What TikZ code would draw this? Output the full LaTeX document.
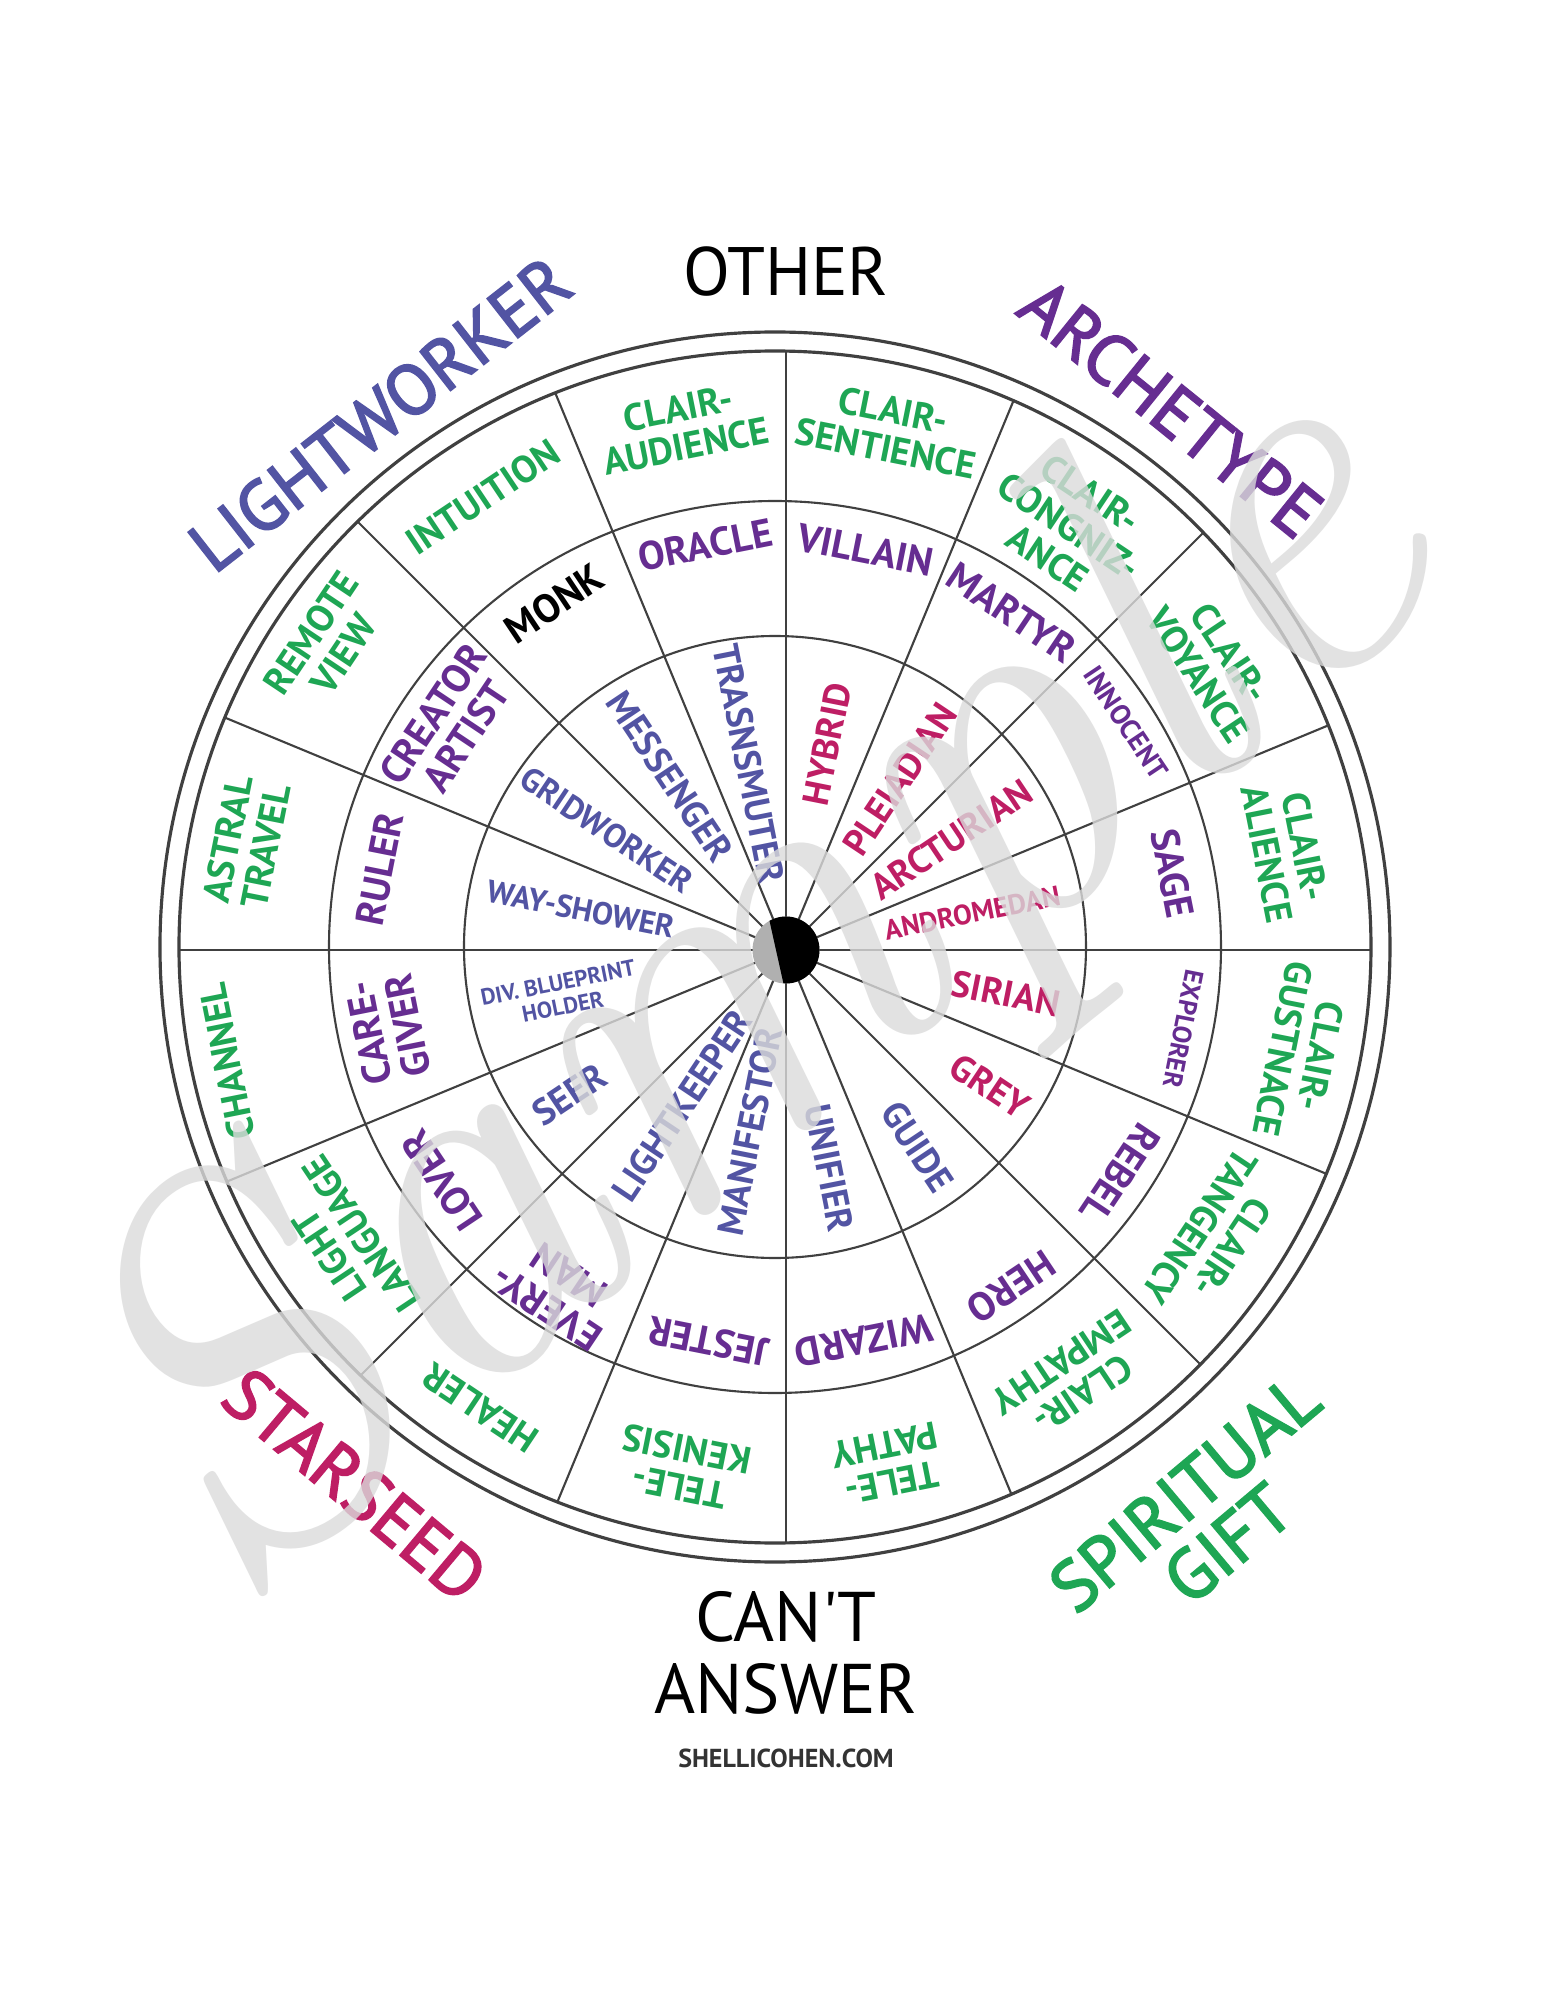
\documentclass[tikz,border=0pt]{standalone}
\usepackage{fontspec}
\setsansfont{PT Sans}
\newfontfamily\plainsans{PT Sans}
\newfontfamily\headsans{PT Sans}[FakeBold=2.6]
\usepackage{tikz}
\usetikzlibrary{calc}

\definecolor{giftgreen}{RGB}{30,166,84}
\definecolor{archpurple}{RGB}{102,45,145}
\definecolor{lwblue}{RGB}{82,84,163}
\definecolor{seedpink}{RGB}{190,30,100}
\definecolor{wheelgray}{RGB}{64,64,64}

\begin{document}
\begin{tikzpicture}[
    lbl/.style={align=center, inner sep=0pt, font=\sffamily\bfseries\fontsize{10.5}{10.5}\selectfont},
    gift/.style={lbl, text=giftgreen, font=\sffamily\bfseries\fontsize{10.8}{11}\selectfont},
    arch/.style={lbl, text=archpurple, font=\sffamily\bfseries\fontsize{11.3}{11.3}\selectfont},
    lw/.style={lbl, text=lwblue},
    seed/.style={lbl, text=seedpink},
    big/.style={align=center, inner sep=0pt, font=\headsans\fontsize{20.2}{19}\selectfont},
    wheel/.style={draw=wheelgray, line width=0.6pt},
    rim/.style={draw=wheelgray, line width=0.9pt}
]
\useasboundingbox (-7.86,-10.50) rectangle (7.59,9.50);
\fill[white] (-7.86,-10.50) rectangle (7.59,9.50);

\coordinate (cc) at (-0.11,0.03);
\coordinate (piv) at (0,0);

\draw[rim] (cc) circle (6.15);
\draw[rim] (cc) circle (5.96);
\draw[wheel] (cc) circle (4.46);
\draw[wheel] (cc) circle (3.11);
\begin{scope}
  \clip (cc) circle (5.96);
  \foreach \a in {0,22.5,...,337.5}
    \draw[wheel] (piv) -- (\a:7);
\end{scope}

\fill[gray!62] (piv) circle (0.335);
\begin{scope}
  \clip (piv) circle (0.335);
  \fill[black] (-0.189,0.4) -- (-0.011,-0.4) -- (0.4,-0.4) -- (0.4,0.4) -- cycle;
\end{scope}

\node[gift, rotate=11.25] (audience) at (101.25:5.33) {CLAIR-\\AUDIENCE};
\node[gift, rotate=-11.25] (sentience) at (78.75:5.31) {CLAIR-\\SENTIENCE};
\node[gift, rotate=-33.75] (cognizance) at (56.25:5.10) {CLAIR-\\CONGNIZ-\\ANCE};
\node[gift, rotate=-56.25] (voyance) at (33.75:5.15) {CLAIR-\\VOYANCE};
\node[gift, rotate=-78.75] (alience) at (11.25:5.10) {CLAIR-\\ALIENCE};
\node[gift, rotate=-101.25] (gustnace) at (-11.25:5.26) {CLAIR-\\GUSTNACE};
\node[gift, rotate=-123.75] (tangency) at (-33.75:5.17) {CLAIR-\\TANGENCY};
\node[gift, rotate=-146.25] (empathy) at (-56.25:5.15) {CLAIR-\\EMPATHY};
\node[gift, rotate=-168.75] (telepathy) at (-78.75:5.24) {TELE-\\PATHY};
\node[gift, rotate=168.75] (telekenisis) at (-101.25:5.28) {TELE-\\KENISIS};
\node[gift, rotate=146.25] (healer) at (-123.75:5.51) {HEALER};
\node[gift, rotate=123.75] (language) at (-146.25:5.30) {LIGHT\\LANGUAGE};
\node[gift, rotate=101.25] (channel) at (-168.75:5.70) {CHANNEL};
\node[gift, rotate=78.75] (astral) at (168.75:5.50) {ASTRAL\\TRAVEL};
\node[gift, rotate=56.25] (remote) at (146.25:5.52) {REMOTE\\VIEW};
\node[gift, rotate=33.75] (intuition) at (123.75:5.45) {INTUITION};

\node[arch, rotate=11.25] (oracle) at (101.25:4.13) {ORACLE};
\node[arch, rotate=-11.25] (villain) at (78.75:4.08) {VILLAIN};
\node[arch, rotate=-33.75] (martyr) at (56.25:4.06) {MARTYR};
\node[arch, rotate=-56.25, font=\sffamily\bfseries\fontsize{8}{8}\selectfont] (innocent) at (33.75:4.09) {INNOCENT};
\node[arch, rotate=-78.75] (sage) at (11.25:3.94) {SAGE};
\node[arch, rotate=-101.25, font=\sffamily\bfseries\fontsize{7.5}{7.5}\selectfont] (explorer) at (-11.25:4.05) {EXPLORER};
\node[arch, rotate=-123.75] (rebel) at (-33.75:4.02) {REBEL};
\node[arch, rotate=-146.25] (hero) at (-56.25:4.05) {HERO};
\node[arch, rotate=-168.75] (wizard) at (-78.75:3.98) {WIZARD};
\node[arch, rotate=168.75] (jester) at (-101.25:3.99) {JESTER};
\node[arch, rotate=146.25] (everyman) at (-123.75:4.11) {EVERY-\\MAN};
\node[arch, rotate=123.75] (lover) at (-146.25:4.14) {LOVER};
\node[arch, rotate=101.25] (caregiver) at (-168.75:4.06) {CARE-\\GIVER};
\node[arch, rotate=78.75] (ruler) at (168.75:4.14) {RULER};
\node[arch, rotate=56.25] (creator) at (146.25:4.05) {CREATOR\\ARTIST};
\node[arch, rotate=33.75, text=black] (monk) at (123.75:4.17) {MONK};

\node[lw, rotate=-78.75] (transmuter) at (101.25:1.90) {TRASNSMUTER};
\node[seed, rotate=78.75] (hybrid) at (78.75:2.10) {HYBRID};
\node[seed, rotate=56.25] (pleiadian) at (56.25:2.05) {PLEIADIAN};
\node[seed, rotate=33.75] (arcturian) at (33.75:1.99) {ARCTURIAN};
\node[seed, rotate=11.25, font=\sffamily\bfseries\fontsize{8}{8}\selectfont] (andromedan) at (11.25:1.90) {ANDROMEDAN};
\node[seed, rotate=-11.25] (sirian) at (-11.25:2.24) {SIRIAN};
\node[seed, rotate=-33.75] (grey) at (-33.75:2.45) {GREY};
\node[lw, rotate=-56.25] (guide) at (-56.25:2.37) {GUIDE};
\node[lw, rotate=-78.75] (unifier) at (-78.75:2.22) {UNIFIER};
\node[lw, rotate=78.75] (manifestor) at (-101.25:1.85) {MANIFESTOR};
\node[lw, rotate=56.25] (lightkeeper) at (-123.75:1.87) {LIGHTKEEPER};
\node[lw, rotate=33.75] (seer) at (-146.25:2.60) {SEER};
\node[lw, rotate=11.25, font=\sffamily\bfseries\fontsize{6.5}{7}\selectfont] (blueprint) at (-168.75:2.30) {DIV. BLUEPRINT\\HOLDER};
\node[lw, rotate=-11.25, font=\sffamily\bfseries\fontsize{9}{9}\selectfont] (wayshower) at (168.75:2.09) {WAY-SHOWER};
\node[lw, rotate=-33.75, font=\sffamily\bfseries\fontsize{9.5}{9.5}\selectfont] (gridworker) at (146.25:2.16) {GRIDWORKER};
\node[lw, rotate=-56.25] (messenger) at (123.75:2.09) {MESSENGER};

\node[big, font=\plainsans\fontsize{19.5}{20}\selectfont] (other) at (0,6.78) {OTHER};
\node[big, text=lwblue, rotate=38] (lightworker) at (-4.06,5.36) {LIGHTWORKER};
\node[big, text=archpurple, rotate=-39] (archetype) at (3.85,5.42) {ARCHETYPE};
\node[big, text=seedpink, rotate=-40] (starseed) at (-4.31,-5.35) {STARSEED};
\node[big, text=giftgreen, rotate=40] (spiritual) at (4.20,-5.68) {SPIRITUAL\\GIFT};
\node[big, font=\plainsans\fontsize{20}{20.5}\selectfont] (cantanswer) at (0,-7.03) {CAN'T\\ANSWER};
\node[inner sep=0pt, font=\sffamily\bfseries\fontsize{7.4}{7.4}\selectfont, text=black!80] (site) at (0,-8.08) {SHELLICOHEN.COM};

\node[font=\rmfamily\itshape\fontsize{150}{150}\selectfont, text=black!14, opacity=0.8, rotate=40] (sample) at (-0.3,-0.45) {Sample};
\end{tikzpicture}
\end{document}
